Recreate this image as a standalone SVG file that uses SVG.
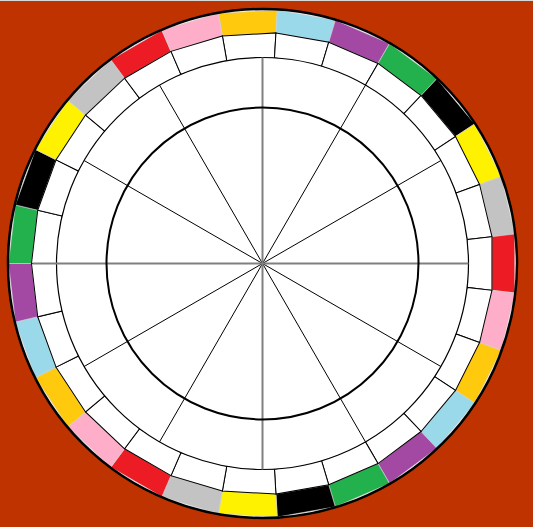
<svg xmlns="http://www.w3.org/2000/svg" xmlns:xlink="http://www.w3.org/1999/xlink" width="533" height="527" viewBox="0 0 533 527">
  <style>
    .ccell { stroke: #d0d0d0; stroke-width: 0.6; }
    .wcell { fill: #ffffff; stroke: #000000; stroke-width: 1; }
    .spoke { stroke: #000000; stroke-width: 1; }
    .axis { stroke: #808080; stroke-width: 2; }
  </style>
  <defs>
    <polygon id="ccell" class="ccell" points="-29.49,-252.28 29.49,-252.28 26.82,-229.44 -26.82,-229.44"/>
    <polygon id="wcell" class="wcell" points="-26.82,-229.44 26.82,-229.44 23.91,-204.61 -23.91,-204.61"/>
  </defs>
  <rect x="0" y="0" width="533" height="527" fill="#BE3300"/>
  <rect x="0" y="0" width="533" height="1" fill="#d8d8d8"/>
  <g transform="translate(262.5,263.5)">
    <circle cx="0" cy="0" r="254.5" fill="#ffffff"/>
    <g id="colored-band">
      <use xlink:href="#ccell" fill="#FFC90E" transform="rotate(-3.333)"/>
      <use xlink:href="#ccell" fill="#99D9EA" transform="rotate(10)"/>
      <use xlink:href="#ccell" fill="#A349A4" transform="rotate(23.333)"/>
      <use xlink:href="#ccell" fill="#22B14C" transform="rotate(36.667)"/>
      <use xlink:href="#ccell" fill="#000000" transform="rotate(50)"/>
      <use xlink:href="#ccell" fill="#FFF200" transform="rotate(63.333)"/>
      <use xlink:href="#ccell" fill="#C3C3C3" transform="rotate(76.667)"/>
      <use xlink:href="#ccell" fill="#ED1C24" transform="rotate(90)"/>
      <use xlink:href="#ccell" fill="#FFAEC9" transform="rotate(103.333)"/>
      <use xlink:href="#ccell" fill="#FFC90E" transform="rotate(116.667)"/>
      <use xlink:href="#ccell" fill="#99D9EA" transform="rotate(130)"/>
      <use xlink:href="#ccell" fill="#A349A4" transform="rotate(143.333)"/>
      <use xlink:href="#ccell" fill="#22B14C" transform="rotate(156.667)"/>
      <use xlink:href="#ccell" fill="#000000" transform="rotate(170)"/>
      <use xlink:href="#ccell" fill="#FFF200" transform="rotate(183.333)"/>
      <use xlink:href="#ccell" fill="#C3C3C3" transform="rotate(196.667)"/>
      <use xlink:href="#ccell" fill="#ED1C24" transform="rotate(210)"/>
      <use xlink:href="#ccell" fill="#FFAEC9" transform="rotate(223.333)"/>
      <use xlink:href="#ccell" fill="#FFC90E" transform="rotate(236.667)"/>
      <use xlink:href="#ccell" fill="#99D9EA" transform="rotate(250)"/>
      <use xlink:href="#ccell" fill="#A349A4" transform="rotate(263.333)"/>
      <use xlink:href="#ccell" fill="#22B14C" transform="rotate(276.667)"/>
      <use xlink:href="#ccell" fill="#000000" transform="rotate(290)"/>
      <use xlink:href="#ccell" fill="#FFF200" transform="rotate(303.333)"/>
      <use xlink:href="#ccell" fill="#C3C3C3" transform="rotate(316.667)"/>
      <use xlink:href="#ccell" fill="#ED1C24" transform="rotate(330)"/>
      <use xlink:href="#ccell" fill="#FFAEC9" transform="rotate(343.333)"/>
    </g>
    <g id="white-band">
      <use xlink:href="#wcell" transform="rotate(-3.333)"/>
      <use xlink:href="#wcell" transform="rotate(10)"/>
      <use xlink:href="#wcell" transform="rotate(23.333)"/>
      <use xlink:href="#wcell" transform="rotate(36.667)"/>
      <use xlink:href="#wcell" transform="rotate(50)"/>
      <use xlink:href="#wcell" transform="rotate(63.333)"/>
      <use xlink:href="#wcell" transform="rotate(76.667)"/>
      <use xlink:href="#wcell" transform="rotate(90)"/>
      <use xlink:href="#wcell" transform="rotate(103.333)"/>
      <use xlink:href="#wcell" transform="rotate(116.667)"/>
      <use xlink:href="#wcell" transform="rotate(130)"/>
      <use xlink:href="#wcell" transform="rotate(143.333)"/>
      <use xlink:href="#wcell" transform="rotate(156.667)"/>
      <use xlink:href="#wcell" transform="rotate(170)"/>
      <use xlink:href="#wcell" transform="rotate(183.333)"/>
      <use xlink:href="#wcell" transform="rotate(196.667)"/>
      <use xlink:href="#wcell" transform="rotate(210)"/>
      <use xlink:href="#wcell" transform="rotate(223.333)"/>
      <use xlink:href="#wcell" transform="rotate(236.667)"/>
      <use xlink:href="#wcell" transform="rotate(250)"/>
      <use xlink:href="#wcell" transform="rotate(263.333)"/>
      <use xlink:href="#wcell" transform="rotate(276.667)"/>
      <use xlink:href="#wcell" transform="rotate(290)"/>
      <use xlink:href="#wcell" transform="rotate(303.333)"/>
      <use xlink:href="#wcell" transform="rotate(316.667)"/>
      <use xlink:href="#wcell" transform="rotate(330)"/>
      <use xlink:href="#wcell" transform="rotate(343.333)"/>
    </g>
    <circle cx="0" cy="0" r="206" fill="#ffffff" stroke="#000000" stroke-width="1.2"/>
    <g id="spokes">
      <line class="spoke" x1="0" y1="0" x2="103" y2="-178.4"/>
      <line class="spoke" x1="0" y1="0" x2="178.4" y2="-103"/>
      <line class="spoke" x1="0" y1="0" x2="178.4" y2="103"/>
      <line class="spoke" x1="0" y1="0" x2="103" y2="178.4"/>
      <line class="spoke" x1="0" y1="0" x2="-103" y2="178.4"/>
      <line class="spoke" x1="0" y1="0" x2="-178.4" y2="103"/>
      <line class="spoke" x1="0" y1="0" x2="-178.4" y2="-103"/>
      <line class="spoke" x1="0" y1="0" x2="-103" y2="-178.4"/>
      <line class="axis" x1="0" y1="-206" x2="0" y2="206"/>
      <line class="axis" x1="-230" y1="0" x2="206" y2="0"/>
    </g>
    <circle cx="0" cy="0" r="156" fill="none" stroke="#000000" stroke-width="2"/>
    <circle cx="0" cy="0" r="254.5" fill="none" stroke="#000000" stroke-width="2.5"/>
  </g>
</svg>
